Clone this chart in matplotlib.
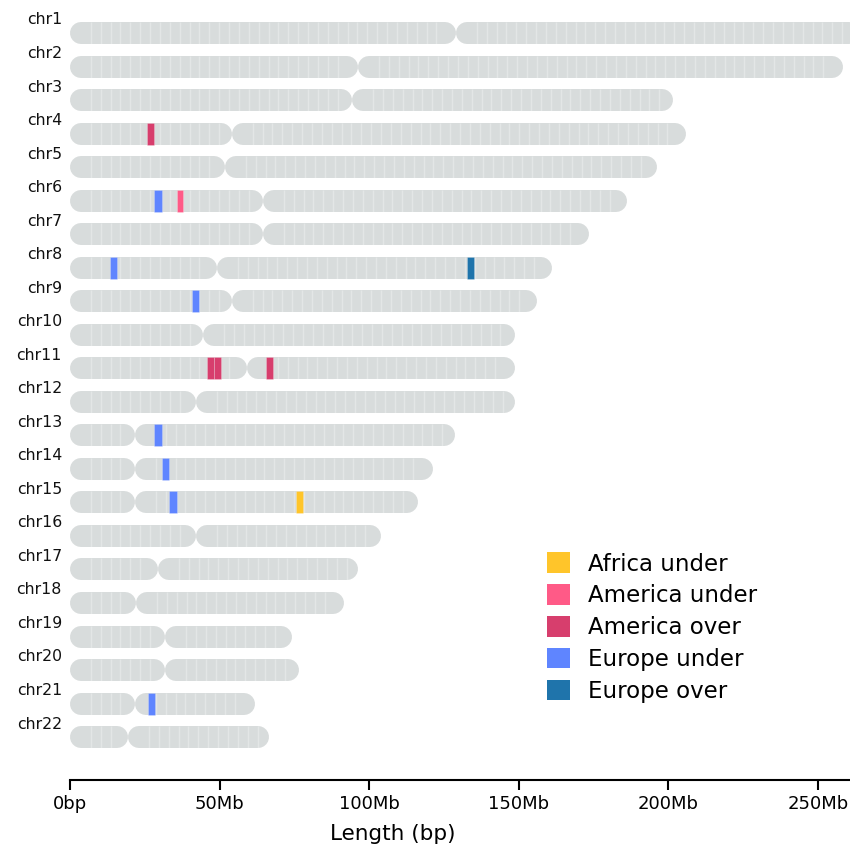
import numpy as np
import matplotlib
matplotlib.use("Agg")
import matplotlib.pyplot as plt
from matplotlib.patches import Patch

# --- data (Mb) ---
chroms = ["chr%d" % i for i in range(1, 23)]
centromeres = [129.0, 96.3, 94.3, 54.1, 51.8, 64.5, 64.5, 49.1, 54.1, 44.5, 59.2,
               42.1, 21.7, 21.7, 21.7, 42.1, 29.4, 22.1, 31.8, 31.8, 21.7, 19.4]
ends = [264.0, 258.4, 201.5, 205.9, 196.2, 186.2, 173.5, 161.1, 156.1, 148.7, 148.7,
        148.7, 128.7, 121.3, 116.3, 103.9, 96.3, 91.6, 74.2, 76.5, 61.8, 66.5]

# highlighted windows: chromosome, start, end, group
hl_chrom = ["chr4", "chr6", "chr6", "chr8", "chr8", "chr9", "chr11", "chr11", "chr11",
            "chr13", "chr14", "chr15", "chr15", "chr21"]
hl_start = [25.7, 28.2, 35.6, 13.4, 132.8, 40.8, 45.8, 48.1, 65.5,
            28.2, 30.6, 33.2, 75.5, 26.0]
hl_end = [28.1, 30.6, 37.9, 15.8, 135.1, 43.1, 48.1, 50.4, 67.8,
          30.6, 33.1, 35.6, 78.0, 28.3]
hl_group = ["America over", "Europe under", "America under", "Europe under", "Europe over",
            "Europe under", "America over", "America over", "America over",
            "Europe under", "Europe under", "Europe under", "Africa under", "Europe under"]

groups = ["Africa under", "America under", "America over", "Europe under", "Europe over"]
group_colors = ["#ffc52a", "#ff5a87", "#d73e6d", "#5f85ff", "#1f74ab"]

tick_pos = [0, 50, 100, 150, 200, 250]
tick_labels = ["0bp", "50Mb", "100Mb", "150Mb", "200Mb", "250Mb"]

# --- layout ---
W = 850
fig = plt.figure(figsize=(8.5, 8.5), dpi=100)
ax = fig.add_axes([70 / W, 70 / W, 780 / W, 780 / W])
ax.set_xlim(0, 260.7)
ax.set_ylim(22.28, -0.985)

px_per_mb = 780 / 260.7
bar_px = 22
cap = (bar_px / 2) / px_per_mb          # round cap radius in Mb
half_h = (bar_px / 2) / 33.52            # half bar height in y units
bar_col = "#d8dcdc"

for i, name in enumerate(chroms):
    for a, b in [(0, centromeres[i]), (centromeres[i], ends[i])]:
        ax.plot([a + cap, b - cap], [i, i], color=bar_col, lw=bar_px * 0.72,
                solid_capstyle="round", zorder=1)
        # faint bin separators
        stripes = np.arange(a + cap, b - cap, 3.3)[1:]
        ax.vlines(stripes, i - half_h, i + half_h, color="white", alpha=0.3,
                  lw=1, zorder=2)
    ax.text(-2.7, i - 0.39, name, ha="right", va="center", fontsize=11.3,
            color="#111111", clip_on=False)

# highlighted windows
color_of = dict(zip(groups, group_colors))
for c, s, e, g in zip(hl_chrom, hl_start, hl_end, hl_group):
    ax.barh(chroms.index(c), e - s, left=s, height=2 * half_h,
            color=color_of[g], edgecolor=(1, 1, 1, 0.25), lw=0.6, zorder=3)

# axes styling
for side in ["top", "right", "left"]:
    ax.spines[side].set_visible(False)
ax.spines["bottom"].set_linewidth(1.5)
ax.set_yticks([])
ax.set_xticks(tick_pos)
ax.set_xticklabels(tick_labels, fontsize=13)
ax.tick_params(axis="x", length=7, width=1.5, pad=4)
ax.set_xlabel("Length (bp)", fontsize=15.5)
ax.xaxis.set_label_coords((393 - 70) / 780, -0.057)

handles = [Patch(facecolor=col, edgecolor="none") for col in group_colors]
ax.legend(handles, groups, loc="upper left", bbox_to_anchor=(536 / W, 1 - 541 / W),
          bbox_transform=fig.transFigure, frameon=False, fontsize=16.5,
          handlelength=1.0, handleheight=1.0, handletextpad=0.75,
          labelspacing=0.38, borderpad=0)

fig.savefig("out.png", dpi=100)
